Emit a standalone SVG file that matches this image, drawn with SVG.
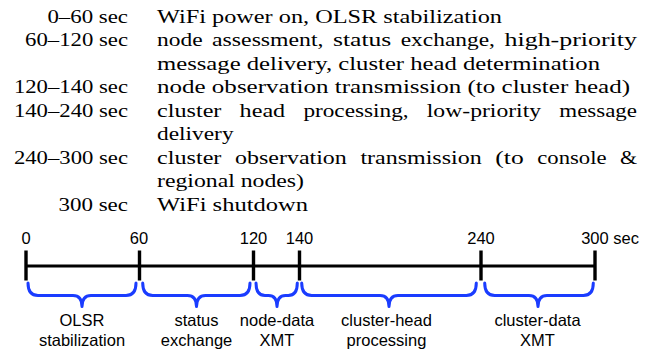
<svg xmlns="http://www.w3.org/2000/svg" width="648" height="352" viewBox="0 0 648 352">
  <style>
    .sched text { font-family: "Liberation Serif", "Times New Roman", serif; font-size: 18.5px; fill: #000; }
    .sans { font-family: "Liberation Sans", Arial, sans-serif; font-size: 16.5px; fill: #000; }
    .mid { text-anchor: middle; }
    .axis { stroke: #000; stroke-width: 3; fill: none; }
    .tick { stroke: #000; stroke-width: 3.4; fill: none; }
    .brace { stroke: #1a3cff; stroke-width: 3; fill: none; stroke-linecap: round; stroke-linejoin: round; }
  </style>

  <!-- schedule table: time ranges (right-aligned) and activities -->
  <g id="schedule" class="sched">
    <g id="row-0-60">
      <text x="47.4" y="22.5" textLength="80.6" lengthAdjust="spacingAndGlyphs">0–60 sec</text>
      <text x="157" y="22.5" textLength="345" lengthAdjust="spacingAndGlyphs">WiFi power on, OLSR stabilization</text>
    </g>
    <g id="row-60-120">
      <text x="25.1" y="46" textLength="102.9" lengthAdjust="spacingAndGlyphs">60–120 sec</text>
      <text y="46">
        <tspan x="157" textLength="45.6" lengthAdjust="spacingAndGlyphs">node</tspan>
        <tspan x="212.1" textLength="111.4" lengthAdjust="spacingAndGlyphs">assessment,</tspan>
        <tspan x="333" textLength="58.2" lengthAdjust="spacingAndGlyphs">status</tspan>
        <tspan x="400.7" textLength="94.3" lengthAdjust="spacingAndGlyphs">exchange,</tspan>
        <tspan x="504.5" textLength="132.5" lengthAdjust="spacingAndGlyphs">high-priority</tspan>
      </text>
      <text x="157" y="69.6" textLength="443" lengthAdjust="spacingAndGlyphs">message delivery, cluster head determination</text>
    </g>
    <g id="row-120-140">
      <text x="13.9" y="93.1" textLength="114.1" lengthAdjust="spacingAndGlyphs">120–140 sec</text>
      <text x="157" y="93.1" textLength="473" lengthAdjust="spacingAndGlyphs">node observation transmission (to cluster head)</text>
    </g>
    <g id="row-140-240">
      <text x="13.9" y="116.7" textLength="114.1" lengthAdjust="spacingAndGlyphs">140–240 sec</text>
      <text y="116.7">
        <tspan x="157" textLength="64.4" lengthAdjust="spacingAndGlyphs">cluster</tspan>
        <tspan x="239.6" textLength="45.6" lengthAdjust="spacingAndGlyphs">head</tspan>
        <tspan x="303.4" textLength="105.2" lengthAdjust="spacingAndGlyphs">processing,</tspan>
        <tspan x="426.8" textLength="114.3" lengthAdjust="spacingAndGlyphs">low-priority</tspan>
        <tspan x="559.3" textLength="77.7" lengthAdjust="spacingAndGlyphs">message</tspan>
      </text>
      <text x="157" y="140.2" textLength="76.6" lengthAdjust="spacingAndGlyphs">delivery</text>
    </g>
    <g id="row-240-300">
      <text x="13.9" y="163.8" textLength="114.1" lengthAdjust="spacingAndGlyphs">240–300 sec</text>
      <text y="163.8">
        <tspan x="157" textLength="64.4" lengthAdjust="spacingAndGlyphs">cluster</tspan>
        <tspan x="235" textLength="111.8" lengthAdjust="spacingAndGlyphs">observation</tspan>
        <tspan x="360.4" textLength="121.3" lengthAdjust="spacingAndGlyphs">transmission</tspan>
        <tspan x="495.3" textLength="28.4" lengthAdjust="spacingAndGlyphs">(to</tspan>
        <tspan x="537.3" textLength="69.2" lengthAdjust="spacingAndGlyphs">console</tspan>
        <tspan x="620" textLength="17" lengthAdjust="spacingAndGlyphs">&amp;</tspan>
      </text>
      <text x="157" y="187.3" textLength="147" lengthAdjust="spacingAndGlyphs">regional nodes)</text>
    </g>
    <g id="row-300">
      <text x="58.5" y="210.9" textLength="69.5" lengthAdjust="spacingAndGlyphs">300 sec</text>
      <text x="157" y="210.9" textLength="151" lengthAdjust="spacingAndGlyphs">WiFi shutdown</text>
    </g>
  </g>

  <!-- time axis with tick marks -->
  <g id="axis">
    <line class="axis" x1="26" y1="266" x2="595" y2="266"/>
    <line class="tick" x1="26" y1="250.5" x2="26" y2="280.5"/>
    <line class="tick" x1="139.5" y1="250.5" x2="139.5" y2="280.5"/>
    <line class="tick" x1="253.5" y1="250.5" x2="253.5" y2="280.5"/>
    <line class="tick" x1="299.5" y1="250.5" x2="299.5" y2="280.5"/>
    <line class="tick" x1="481" y1="250.5" x2="481" y2="280.5"/>
    <line class="tick" x1="595" y1="250.5" x2="595" y2="280.5"/>
    <g class="sans mid">
      <text x="26" y="244">0</text>
      <text x="139" y="244">60</text>
      <text x="253.5" y="244">120</text>
      <text x="299.5" y="244">140</text>
      <text x="481" y="244">240</text>
    </g>
    <text class="sans" x="581.2" y="244">300 sec</text>
  </g>

  <!-- phases: brace under each interval with its label -->
  <g id="phase-olsr">
    <path class="brace" d="M28 283 C28 291 31 295.5 38 295.5 H73 C79 295.5 82 299 82 306.5 C82 299 85 295.5 91 295.5 H126 C133 295.5 136 291 136 283"/>
    <text class="sans mid" x="82" y="326">OLSR</text>
    <text class="sans mid" x="82" y="345.5">stabilization</text>
  </g>
  <g id="phase-status">
    <path class="brace" d="M142.7 283 C142.7 291 145.7 295.5 152.7 295.5 H187.5 C193.5 295.5 196.5 299 196.5 306.5 C196.5 299 199.5 295.5 205.5 295.5 H240 C247 295.5 250 291 250 283"/>
    <text class="sans mid" x="196.5" y="326">status</text>
    <text class="sans mid" x="196.5" y="345.5">exchange</text>
  </g>
  <g id="phase-node-data">
    <path class="brace" d="M256 283 C256 291 259 295.5 265 295.5 H268.5 C274 295.5 277 299 277 306.5 C277 299 280 295.5 285.5 295.5 H288.3 C294.3 295.5 297.3 291 297.3 283"/>
    <text class="sans mid" x="277" y="326">node-data</text>
    <text class="sans mid" x="277" y="345.5">XMT</text>
  </g>
  <g id="phase-cluster-head">
    <path class="brace" d="M301.7 283 C301.7 291 304.7 295.5 311.7 295.5 H380 C386 295.5 389 299 389 306.5 C389 299 392 295.5 398 295.5 H466.3 C473.3 295.5 476.3 291 476.3 283"/>
    <text class="sans mid" x="386.5" y="326">cluster-head</text>
    <text class="sans mid" x="386.5" y="345.5">processing</text>
  </g>
  <g id="phase-cluster-data">
    <path class="brace" d="M484.7 283 C484.7 291 487.7 295.5 494.7 295.5 H529 C535 295.5 538 299 538 306.5 C538 299 541 295.5 547 295.5 H583.3 C590.3 295.5 593.3 291 593.3 283"/>
    <text class="sans mid" x="537.5" y="326">cluster-data</text>
    <text class="sans mid" x="537.5" y="345.5">XMT</text>
  </g>
</svg>
